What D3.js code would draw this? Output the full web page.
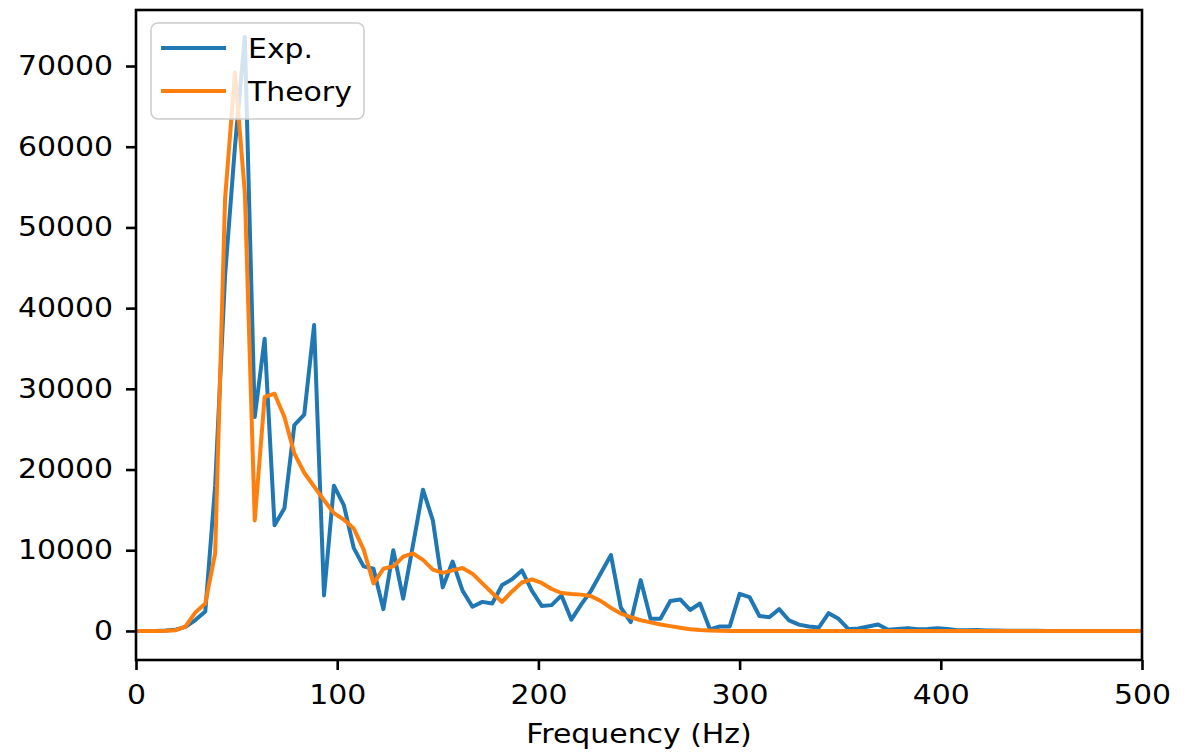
<!DOCTYPE html>
<html>
<head>
<meta charset="utf-8">
<script src="https://cdn.jsdelivr.net/npm/d3@7"></script>
<style>
  html, body { margin: 0; padding: 0; background: #fff; }
  svg { display: block; }
  text { font-family: "DejaVu Sans", sans-serif; fill: #000; }
</style>
</head>
<body>
<svg id="chart" width="1198" height="754"></svg>
<script>
// FFT bin width (Hz) of the spectrum
const binWidth = 4.918;

const expValues = [
  0, 0, 0, 50, 150, 500, 1350, 2400, 18000, 44000,
  60000, 73600, 26500, 36200, 13100, 15200, 25500, 26800, 37900, 4400,
  18000, 15600, 10300, 8000, 7700, 2700, 10000, 4000, 10700, 17500,
  13700, 5400, 8600, 5000, 3000, 3600, 3400, 5700, 6400, 7500,
  5000, 3100, 3200, 4400, 1400, 3300, 5000, 7200, 9400, 2900,
  1100, 6300, 1500, 1500, 3700, 3900, 2600, 3400, 200, 550,
  550, 4600, 4200, 1850, 1700, 2700, 1300, 780, 550, 420,
  2200, 1500, 220, 300, 550, 800, 150, 250, 350, 200,
  250, 330, 250, 80, 100, 130, 60, 40, 20, 20,
  10, 10, 0, 0, 0, 0, 0, 0, 0, 0,
  0, 0, 0
];

const theoryValues = [
  0, 0, 0, 20, 100, 550, 2300, 3400, 9600, 53500,
  69200, 54300, 13700, 29000, 29400, 26500, 22000, 19600, 17900, 16200,
  14600, 13800, 12700, 10100, 5900, 7700, 8000, 9200, 9600, 8800,
  7600, 7200, 7500, 7800, 7100, 5900, 4700, 3600, 4900, 6000,
  6400, 5950, 5200, 4700, 4580, 4500, 4300, 3700, 2850, 2150,
  1700, 1330, 1060, 800, 600, 400, 220, 110, 50, 20,
  0, 0, 0, 0, 0, 0, 0, 0, 0, 0,
  0, 0, 0, 0, 0, 0, 0, 0, 0, 0,
  0, 0, 0, 0, 0, 0, 0, 0, 0, 0,
  0, 0, 0, 0, 0, 0, 0, 0, 0, 0,
  0, 0, 0
];

const seriesNames = ["Exp.", "Theory"];
const seriesColors = ["#1f77b4", "#ff7f0e"];
const xTicks = [0, 100, 200, 300, 400, 500];
const yTicks = [0, 10000, 20000, 30000, 40000, 50000, 60000, 70000];
const xLabel = "Frequency (Hz)";

const svg = d3.select("#chart");
const pL = 136, pR = 1142, pT = 10, pB = 660;
const sx = 1.15; // horizontal stretch of text in the reference
const fontSize = 26;
const lw = 4;

const x = d3.scaleLinear().domain([0, 500]).range([pL, pR]);
const y = d3.scaleLinear().domain([-3600, 76940]).range([pB, pT]);

svg.append("defs").append("clipPath").attr("id", "clip")
  .append("rect").attr("x", pL).attr("y", pT)
  .attr("width", pR - pL).attr("height", pB - pT);

const series = [expValues, theoryValues].map((vals, k) => ({
  name: seriesNames[k], color: seriesColors[k],
  pts: vals.map((v, i) => [i * binWidth, v])
}));

const line = d3.line().x(d => x(d[0])).y(d => y(d[1]));
const gLines = svg.append("g").attr("clip-path", "url(#clip)");
series.forEach(s => {
  gLines.append("path").datum(s.pts)
    .attr("d", line).attr("fill", "none")
    .attr("stroke", s.color).attr("stroke-width", lw)
    .attr("stroke-linejoin", "round").attr("stroke-linecap", "square");
});

// frame
svg.append("rect").attr("x", pL).attr("y", pT)
  .attr("width", pR - pL).attr("height", pB - pT)
  .attr("fill", "none").attr("stroke", "#000").attr("stroke-width", 2.6);

// axes
const xAxis = d3.axisBottom(x).tickValues(xTicks).tickSize(10).tickPadding(14)
  .tickFormat(d3.format("d"));
const yAxis = d3.axisLeft(y).tickValues(yTicks).tickSize(10).tickPadding(13)
  .tickFormat(d3.format("d"));

const gx = svg.append("g").attr("transform", `translate(0,${pB})`).call(xAxis);
const gy = svg.append("g").attr("transform", `translate(${pL},0)`).call(yAxis);
[gx, gy].forEach(g => {
  g.select(".domain").remove();
  g.selectAll(".tick line").attr("stroke", "#000").attr("stroke-width", 2.6);
  g.selectAll(".tick text").attr("font-size", fontSize)
    .attr("font-family", "DejaVu Sans").attr("fill", "#000");
});
gy.selectAll(".tick text").each(function() {
  const t = d3.select(this);
  const xv = +t.attr("x");
  t.attr("x", xv / sx).attr("transform", `scale(${sx},1)`);
});
gx.selectAll(".tick text").attr("transform", `scale(${sx},1)`).attr("dy", "0.72em").attr("y", 25);

// x label
svg.append("text")
  .attr("transform", `translate(${(pL + pR) / 2},743) scale(${sx},1)`)
  .attr("text-anchor", "middle").attr("font-size", fontSize)
  .text(xLabel);

// legend
const lg = svg.append("g");
lg.append("rect").attr("x", 151).attr("y", 23).attr("width", 213).attr("height", 96)
  .attr("rx", 7).attr("ry", 7)
  .attr("fill", "#fff").attr("fill-opacity", 0.8)
  .attr("stroke", "#ccc").attr("stroke-width", 1.5);
series.forEach((s, k) => {
  const yy = 48 + k * 43;
  lg.append("line").attr("x1", 161).attr("x2", 226).attr("y1", yy).attr("y2", yy)
    .attr("stroke", s.color).attr("stroke-width", lw);
  lg.append("text")
    .attr("transform", `translate(248,${yy + 10}) scale(${sx},1)`)
    .attr("font-size", fontSize).text(s.name);
});
</script>
</body>
</html>
